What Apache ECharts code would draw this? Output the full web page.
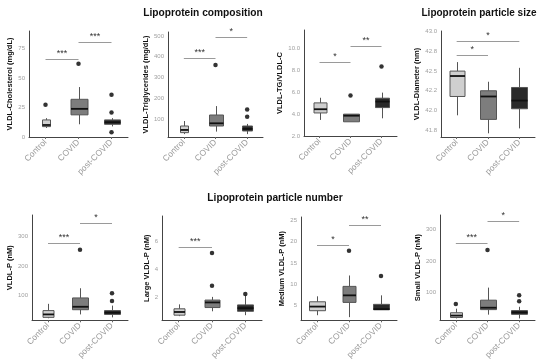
<!DOCTYPE html>
<html><head><meta charset="utf-8">
<script src="https://cdn.jsdelivr.net/npm/echarts@6/dist/echarts.min.js"></script>
<style>html,body{margin:0;padding:0;background:#fff}#c{width:537px;height:362px}</style>
</head><body><div id="c"></div>
<script>
const categories = ['Control', 'COVID', 'post-COVID'];

// box stats per category: [min, q1, median, q3, max]
const cholBoxes = [[7.7, 8.8, 10.2, 14.5, 16], [10.8, 18.8, 23.9, 32, 42.4], [9, 10.8, 12.5, 14.5, 16]];
const cholOutliers = [[0, 27.3], [1, 62.2], [2, 35.8], [2, 20.7], [2, 4]];
const cholSig = [[0, 1, 66.5, '***'], [1, 2, 80.4, '***']];
const cholTicks = [0, 25, 50, 75];

const tgBoxes = [[27, 34, 47, 66, 90], [39, 66, 79, 119, 162], [27, 42, 52, 66, 76]];
const tgOutliers = [[1, 360], [2, 111], [2, 146]];
const tgSig = [[0, 1, 392, '***'], [1, 2, 496, '*']];
const tgTicks = [100, 200, 300, 400, 500];

const ratioBoxes = [[3.47, 4.11, 4.45, 5.03, 5.5], [3.3, 3.3, 3.86, 4.0, 4.0], [3.62, 4.6, 5.15, 5.46, 5.97]];
const ratioOutliers = [[1, 5.7], [2, 8.36]];
const ratioSig = [[0, 1, 8.76, '*'], [1, 2, 10.28, '**']];
const ratioTicks = [2, 4, 6, 8, 10];

const diamBoxes = [[41.98, 42.21, 42.46, 42.52, 42.63], [41.76, 41.93, 42.21, 42.28, 42.39], [41.82, 42.06, 42.16, 42.32, 42.56]];
const diamOutliers = [];
const diamSig = [[0, 1, 42.72, '*'], [0, 2, 42.89, '*']];
const diamTicks = [41.8, 42.04, 42.28, 42.52, 42.76, 43.0];
const diamTickLabels = ['41.8', '42.0', '42.2', '42.5', '42.8', '43.0'];

const vldlpBoxes = [[23, 26, 36, 49, 72], [36, 52, 62, 92, 125], [26, 36, 42, 49, 66]];
const vldlpOutliers = [[1, 256], [2, 82], [2, 108]];
const vldlpSig = [[0, 1, 279, '***'], [1, 2, 348, '*']];
const vldlpTicks = [100, 200, 300];

const largeBoxes = [[0.61, 0.68, 0.91, 1.14, 1.46], [0.96, 1.23, 1.6, 1.77, 2.0], [0.68, 0.96, 1.19, 1.42, 2.1]];
const largeOutliers = [[1, 2.81], [1, 5.16], [2, 2.2]];
const largeSig = [[0, 1, 5.62, '***']];
const largeTicks = [2, 4, 6];

const mediumBoxes = [[2.56, 3.63, 4.61, 5.75, 7.05], [2.1, 5.6, 7.28, 9.41, 12], [3.86, 3.86, 4.0, 5.14, 7.28]];
const mediumOutliers = [[1, 17.9], [2, 11.85]];
const mediumSig = [[0, 1, 19.3, '*'], [1, 2, 23.9, '**']];
const mediumTicks = [5, 10, 15, 20, 25];

const smallBoxes = [[17, 20, 26, 35, 48], [29, 45, 51, 75, 115], [17, 30, 36, 42, 54]];
const smallOutliers = [[0, 63], [1, 235], [2, 72], [2, 91]];
const smallSig = [[0, 1, 257, '***'], [1, 2, 327, '*']];
const smallTicks = [100, 200, 300];

// ---- layout / style ----
const FONT = 'Liberation Sans, Arial, sans-serif';
const fills = ['#cfcfcf', '#7d7d7d', '#2a2a2a'];
const panels = [
  {name: 'VLDL-Cholesterol (mg/dL)', boxes: cholBoxes, out: cholOutliers, sig: cholSig, ticks: cholTicks, grid: [29, 31, 99, 106], min: 0, max: 90, widths: [8, 17, 16]},
  {name: 'VLDL-Triglycerides (mg/dL)', boxes: tgBoxes, out: tgOutliers, sig: tgSig, ticks: tgTicks, grid: [168, 32, 95, 105], min: 13, max: 519, widths: [8, 14, 10]},
  {name: 'VLDL-TG/VLDL-C', boxes: ratioBoxes, out: ratioOutliers, sig: ratioSig, ticks: ratioTicks, grid: [304, 30, 93, 106], min: 2, max: 11.7, widths: [13, 16, 14], fmt: v => v.toFixed(1)},
  {name: 'VLDL-Diameter (nm)', boxes: diamBoxes, out: diamOutliers, sig: diamSig, ticks: diamTicks, grid: [441, 31, 94, 106], min: 41.715, max: 43.01, widths: [15, 16, 16], fmt: v => { const i = diamTicks.findIndex(t => Math.abs(t - v) < 1e-6); return i >= 0 ? diamTickLabels[i] : ''; }},
  {name: 'VLDL-P (nM)', boxes: vldlpBoxes, out: vldlpOutliers, sig: vldlpSig, ticks: vldlpTicks, grid: [32, 215, 96, 109], min: 16, max: 374, widths: [11, 16, 16]},
  {name: 'Large VLDL-P (nM)', boxes: largeBoxes, out: largeOutliers, sig: largeSig, ticks: largeTicks, grid: [162, 216, 100, 108], min: 0.31, max: 7.84, widths: [11, 15, 16]},
  {name: 'Medium VLDL-P (nM)', boxes: mediumBoxes, out: mediumOutliers, sig: mediumSig, ticks: mediumTicks, grid: [301, 217, 96, 107], min: 1.35, max: 25.9, widths: [16, 13, 16]},
  {name: 'Small VLDL-P (nM)', boxes: smallBoxes, out: smallOutliers, sig: smallSig, ticks: smallTicks, grid: [440, 215, 95, 109], min: 11, max: 346, widths: [12, 16, 16]}
];

const grid = [], xAxis = [], yAxis = [], series = [];
panels.forEach((p, k) => {
  grid.push({left: p.grid[0], top: p.grid[1], width: p.grid[2], height: p.grid[3], containLabel: false});
  xAxis.push({
    type: 'category', gridIndex: k, data: categories, boundaryGap: true,
    axisLine: {lineStyle: {color: '#444', width: 1}},
    axisTick: {show: true, alignWithLabel: true, length: 2, lineStyle: {color: '#666'}},
    axisLabel: {rotate: 45, fontSize: 8.5, color: '#9a9a9a', fontFamily: FONT, margin: 4, interval: 0}
  });
  yAxis.push({
    type: 'value', gridIndex: k, min: p.min, max: p.max,
    name: p.name, nameLocation: 'middle', nameGap: 11,
    nameTextStyle: {fontSize: 7.5, fontWeight: 'bold', color: '#111', fontFamily: FONT},
    splitLine: {show: false},
    axisLine: {show: true, lineStyle: {color: '#444', width: 1}},
    axisTick: {show: false},
    axisLabel: {customValues: p.ticks, fontSize: 6, color: '#a0a0a0', fontFamily: FONT, margin: 4,
      formatter: p.fmt ? p.fmt : (v => String(v))}
  });
  const widths = p.widths;
  series.push({
    type: 'custom', xAxisIndex: k, yAxisIndex: k,
    data: p.boxes.map((b, i) => [i].concat(b)),
    encode: {x: 0, y: [1, 2, 3, 4, 5]},
    renderItem: function (params, api) {
      const c = api.value(0);
      const w = widths[c];
      const pMin = api.coord([c, api.value(1)]);
      const pQ1 = api.coord([c, api.value(2)]);
      const pMed = api.coord([c, api.value(3)]);
      const pQ3 = api.coord([c, api.value(4)]);
      const pMax = api.coord([c, api.value(5)]);
      const x = Math.round(pQ1[0]) + 0.5;
      return {type: 'group', children: [
        {type: 'line', shape: {x1: x, y1: pMin[1], x2: x, y2: pQ1[1]}, style: {stroke: '#555', lineWidth: 1}},
        {type: 'line', shape: {x1: x, y1: pQ3[1], x2: x, y2: pMax[1]}, style: {stroke: '#555', lineWidth: 1}},
        {type: 'rect', shape: {x: x - w / 2, y: pQ3[1], width: w, height: pQ1[1] - pQ3[1]}, style: {fill: fills[c], stroke: '#555', lineWidth: 1}},
        {type: 'line', shape: {x1: x - w / 2, y1: pMed[1], x2: x + w / 2, y2: pMed[1]}, style: {stroke: '#111', lineWidth: 1.8}}
      ]};
    },
    silent: true, animation: false
  });
  series.push({
    type: 'scatter', xAxisIndex: k, yAxisIndex: k,
    data: p.out, symbol: 'circle', symbolSize: 4.5,
    itemStyle: {color: '#000'}, silent: true, animation: false
  });
  const sig = p.sig;
  series.push({
    type: 'custom', xAxisIndex: k, yAxisIndex: k,
    data: sig.map(s => [s[0], s[1], s[2]]),
    encode: {x: [0, 1], y: 2},
    renderItem: function (params, api) {
      const s = sig[params.dataIndex];
      const a = api.coord([s[0], s[2]]);
      const b = api.coord([s[1], s[2]]);
      const y = Math.round(a[1]) + 0.5;
      return {type: 'group', children: [
        {type: 'line', shape: {x1: a[0], y1: y, x2: b[0], y2: y}, style: {stroke: '#9a9a9a', lineWidth: 1}},
        {type: 'text', x: (a[0] + b[0]) / 2, y: y - 1, style: {text: s[3], fill: '#333', fontSize: 9, fontFamily: FONT, align: 'center', verticalAlign: 'bottom'}}
      ]};
    },
    silent: true, animation: false, clip: false
  });
});

const chart = echarts.init(document.getElementById('c'), null, {renderer: 'canvas'});
chart.setOption({
  animation: false,
  backgroundColor: '#fff',
  grid, xAxis, yAxis, series,
  graphic: [
    {type: 'text', x: 203, y: 13, style: {text: 'Lipoprotein composition', fontSize: 10.2, fontWeight: 'bold', fill: '#111', fontFamily: FONT, align: 'center', verticalAlign: 'middle'}},
    {type: 'text', x: 479, y: 13, style: {text: 'Lipoprotein particle size', fontSize: 10, fontWeight: 'bold', fill: '#111', fontFamily: FONT, align: 'center', verticalAlign: 'middle'}},
    {type: 'text', x: 275, y: 198, style: {text: 'Lipoprotein particle number', fontSize: 10.2, fontWeight: 'bold', fill: '#111', fontFamily: FONT, align: 'center', verticalAlign: 'middle'}}
  ]
});
</script></body></html>
